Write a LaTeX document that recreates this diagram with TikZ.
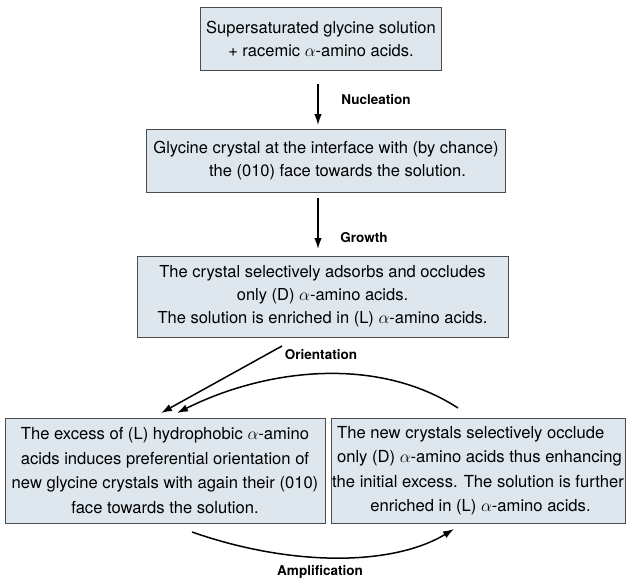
\documentclass[tikz,border=0pt]{standalone}
\usepackage{amsmath}
\usepackage{fontspec}
\setmainfont{TeX Gyre Heros}
\usepackage{tikz}
\usetikzlibrary{arrows.meta}

\definecolor{boxfill}{RGB}{222,231,238}

\begin{document}
\begin{tikzpicture}[x=1pt,y=-1pt,
        stagebox/.style={draw=black!70,line width=0.8pt,fill=boxfill,align=center,inner sep=0pt,font=\fontsize{16.5}{23.2}\selectfont},
        loopbox/.style={stagebox,minimum height=105,font=\fontsize{16.6}{24.5}\selectfont},
        steplabel/.style={font=\bfseries\fontsize{13.5}{15}\selectfont},
        flow/.style={line width=1.5pt,-{Latex[length=11pt,width=7.5pt]}}]
        \useasboundingbox (0,0) rectangle (626,581);
        % top chain
        \node[stagebox,minimum width=241,minimum height=63] (start) at (321,39)
            {Supersaturated glycine solution\\+ racemic $\alpha$-amino acids.};
        \node[stagebox,minimum width=359,minimum height=63] (nucleus) at (326,160.5)
            {Glycine crystal at the interface with (by chance)\\\hspace{1.4em}the (010) face towards the solution.};
        \node[stagebox,minimum width=371,minimum height=81] (adsorb) at (322.5,296.5)
            {The crystal selectively adsorbs and occludes\\only (D) $\alpha$-amino acids.\\The solution is enriched in (L) $\alpha$-amino acids.};
        % bottom pair
        \node[loopbox,minimum width=320] (orient) at (165,470.5)
            {The excess of (L) hydrophobic $\alpha$-amino\\acids induces preferential orientation of\\new glycine crystals with again their (010)\\face towards the solution.};
        \node[loopbox,minimum width=294,align=left] (occlude) at (478,470.5)
            {\hspace{0.3em}The new crystals selectively occlude\\\hspace{0.3em}only (D) $\alpha$-amino acids thus enhancing\\the initial excess. The solution is further\\\hspace{2.3em}enriched in (L) $\alpha$-amino acids.};
        % arrow ends
        \coordinate (n1) at (318,84);
        \coordinate (n2) at (318,125);
        \coordinate (g1) at (318,198);
        \coordinate (g2) at (318,249);
        \coordinate (o1) at (282,346);
        \coordinate (o2) at (161,413);
        \coordinate (r1) at (458,408);
        \coordinate (r2) at (177,413);
        \coordinate (a1) at (192,532);
        \coordinate (a2) at (454,529);
        \draw[flow] (n1) -- (n2);
        \draw[flow] (g1) -- (g2);
        \draw[flow] (o1) -- (o2);
        \draw[flow] (r1) .. controls (378,356) and (267,368) .. (r2);
        \draw[flow] (a1) .. controls (292,567) and (393,566) .. (a2);
        % labels
        \node[steplabel] (nuc) at (376,100) {Nucleation};
        \node[steplabel] (gro) at (364,238) {Growth};
        \node[steplabel] (ori) at (321,355) {Orientation};
        \node[steplabel] (amp) at (320,572) {Amplification};
    \end{tikzpicture}
\end{document}
